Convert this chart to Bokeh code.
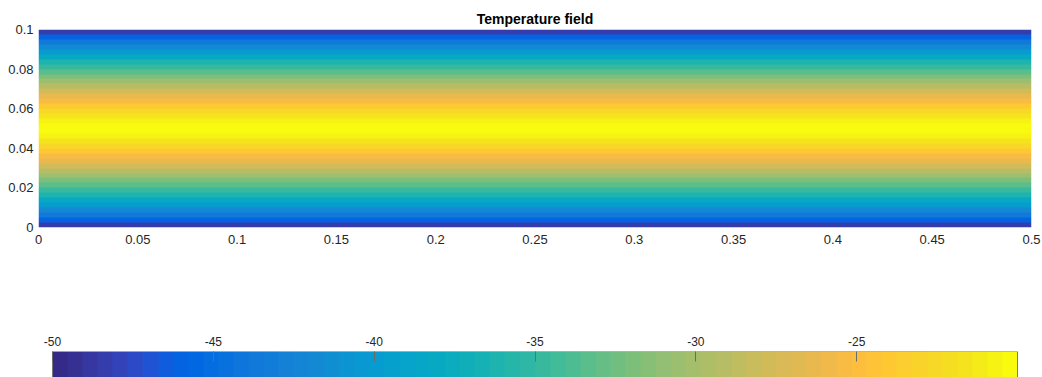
import numpy as np
from bokeh.plotting import figure
from bokeh.models import Range1d, LinearColorMapper, FixedTicker, CustomJSTickFormatter
from bokeh.layouts import column
from bokeh.embed import file_html
from bokeh.resources import INLINE

# ---------------- data ----------------
title_text = "Temperature field"
x_extent = [0.0, 0.5]
y_extent = [0.0, 0.1]
x_ticks = [0, 0.05, 0.1, 0.15, 0.2, 0.25, 0.3, 0.35, 0.4, 0.45, 0.5]
y_ticks = [0, 0.02, 0.04, 0.06, 0.08, 0.1]
cbar_ticks = [-50, -45, -40, -35, -30, -25]
t_low = -50.0
t_high = -20.0

# temperature profile across the channel (cells of 0.0025 from y=0 to y=0.1), uniform along x
temps = [-48.3, -46.0, -43.8, -41.7, -39.8, -38.0, -36.4, -34.9, -33.3, -31.9,
         -30.5, -29.1, -27.8, -26.5, -25.2, -24.0, -22.8, -21.8, -20.9, -20.2,
         -20.2, -20.9, -21.8, -22.8, -24.0, -25.2, -26.5, -27.8, -29.1, -30.5,
         -31.9, -33.3, -34.9, -36.4, -38.0, -39.8, -41.7, -43.8, -46.0, -48.3]

# parula (64 colours)
parula_rgb = [
    [0.2081, 0.1663, 0.5292], [0.2116, 0.1898, 0.5777], [0.2123, 0.2138, 0.6270], [0.2081, 0.2386, 0.6771],
    [0.1959, 0.2645, 0.7279], [0.1707, 0.2919, 0.7792], [0.1253, 0.3242, 0.8303], [0.0591, 0.3598, 0.8683],
    [0.0117, 0.3875, 0.8820], [0.0060, 0.4086, 0.8828], [0.0165, 0.4266, 0.8786], [0.0329, 0.4430, 0.8720],
    [0.0498, 0.4586, 0.8641], [0.0629, 0.4737, 0.8554], [0.0723, 0.4887, 0.8467], [0.0779, 0.5040, 0.8384],
    [0.0793, 0.5200, 0.8312], [0.0749, 0.5375, 0.8263], [0.0641, 0.5570, 0.8240], [0.0488, 0.5772, 0.8228],
    [0.0343, 0.5966, 0.8199], [0.0265, 0.6137, 0.8135], [0.0239, 0.6287, 0.8038], [0.0231, 0.6418, 0.7913],
    [0.0228, 0.6535, 0.7768], [0.0267, 0.6642, 0.7607], [0.0384, 0.6743, 0.7436], [0.0590, 0.6838, 0.7254],
    [0.0843, 0.6928, 0.7062], [0.1133, 0.7015, 0.6859], [0.1453, 0.7098, 0.6646], [0.1801, 0.7177, 0.6424],
    [0.2178, 0.7250, 0.6193], [0.2586, 0.7317, 0.5954], [0.3022, 0.7376, 0.5712], [0.3482, 0.7424, 0.5473],
    [0.3953, 0.7459, 0.5244], [0.4420, 0.7481, 0.5033], [0.4871, 0.7491, 0.4840], [0.5300, 0.7491, 0.4661],
    [0.5709, 0.7485, 0.4494], [0.6099, 0.7473, 0.4337], [0.6473, 0.7456, 0.4188], [0.6834, 0.7435, 0.4044],
    [0.7184, 0.7411, 0.3905], [0.7525, 0.7384, 0.3768], [0.7858, 0.7356, 0.3633], [0.8185, 0.7327, 0.3498],
    [0.8507, 0.7299, 0.3360], [0.8824, 0.7274, 0.3217], [0.9139, 0.7258, 0.3063], [0.9450, 0.7261, 0.2886],
    [0.9739, 0.7314, 0.2666], [0.9938, 0.7455, 0.2403], [0.9990, 0.7653, 0.2164], [0.9955, 0.7861, 0.1967],
    [0.9880, 0.8066, 0.1794], [0.9789, 0.8271, 0.1633], [0.9697, 0.8481, 0.1475], [0.9626, 0.8705, 0.1309],
    [0.9589, 0.8949, 0.1132], [0.9598, 0.9218, 0.0948], [0.9661, 0.9514, 0.0755], [0.9763, 0.9831, 0.0538],
]
parula = ["#%02x%02x%02x" % tuple(int(round(c * 255)) for c in rgb) for rgb in parula_rgb]

FONT = "Liberation Sans"
LABEL_COLOR = "#262626"

# layout (pixels)
W = 1042
BORDER_L, BORDER_R = 38, 11
FRAME_W = W - BORDER_L - BORDER_R           # 993
CB_INSET_L, CB_INSET_R = 14, 14             # colour bar is narrower than the axes

mapper = LinearColorMapper(palette=parula, low=t_low, high=t_high)
fmt = CustomJSTickFormatter(code="return Number(tick.toFixed(4)).toString();")

# ---------------- main field ----------------
p = figure(width=W, height=258, output_backend="svg", toolbar_location=None,
           x_range=Range1d(*x_extent), y_range=Range1d(*y_extent),
           min_border_left=BORDER_L, min_border_right=BORDER_R, min_border_top=29, min_border_bottom=31)
p.title.text = title_text
p.title.align = "center"
p.title.text_font = FONT
p.title.text_font_size = "14px"
p.title.text_font_style = "bold"
p.title.text_color = "black"
p.title.standoff = 6

field = np.column_stack([np.array(temps), np.array(temps)])
p.image(image=[field], x=x_extent[0], y=y_extent[0],
        dw=x_extent[1] - x_extent[0], dh=y_extent[1] - y_extent[0], color_mapper=mapper)

p.xaxis.ticker = FixedTicker(ticks=x_ticks)
p.yaxis.ticker = FixedTicker(ticks=y_ticks)
for ax in (p.xaxis, p.yaxis):
    ax.formatter = fmt
    ax.axis_line_color = None
    ax.major_tick_line_color = None
    ax.minor_tick_line_color = None
    ax.major_tick_out = 0
    ax.major_tick_in = 0
    ax.minor_tick_out = 0
    ax.major_label_text_font = FONT
    ax.major_label_text_font_size = "13px"
    ax.major_label_text_color = LABEL_COLOR
p.xaxis.major_label_standoff = 7
p.yaxis.major_label_standoff = 5
p.grid.visible = False
p.outline_line_color = None
p.background_fill_color = "white"
p.border_fill_color = "white"

# ---------------- colour bar ----------------
bar_px = FRAME_W - CB_INSET_L - CB_INSET_R
upp = (t_high - t_low) / bar_px
cb = figure(width=W, height=119, output_backend="svg", toolbar_location=None,
            x_range=Range1d(t_low - CB_INSET_L * upp, t_high + CB_INSET_R * upp), y_range=Range1d(0, 1),
            x_axis_location="above", y_axis_type=None,
            min_border_left=BORDER_L, min_border_right=BORDER_R, min_border_top=93, min_border_bottom=0)
n_levels = len(parula)
levels = t_low + (np.arange(n_levels) + 0.5) * (t_high - t_low) / n_levels
cb.image(image=[levels.reshape(1, -1)], x=t_low, y=0, dw=t_high - t_low, dh=1, color_mapper=mapper)
cb.quad(left=t_low, right=t_high, bottom=0, top=1, fill_color=None, line_color="#7a7a7a", line_width=1)
cb.xaxis.ticker = FixedTicker(ticks=cbar_ticks)
cb.xaxis.formatter = fmt
cb.xaxis.axis_line_color = None
cb.xaxis.major_tick_in = 10
cb.xaxis.major_tick_out = 0
cb.xaxis.minor_tick_out = 0
cb.xaxis.major_tick_line_color = "#6b6b6b"
cb.xaxis.minor_tick_line_color = None
cb.xaxis.major_label_text_font = FONT
cb.xaxis.major_label_text_font_size = "12px"
cb.xaxis.major_label_text_color = LABEL_COLOR
cb.xaxis.major_label_standoff = 6
cb.grid.visible = False
cb.outline_line_color = None

layout = column(p, cb)
open("out.html", "w").write(file_html(layout, INLINE))
